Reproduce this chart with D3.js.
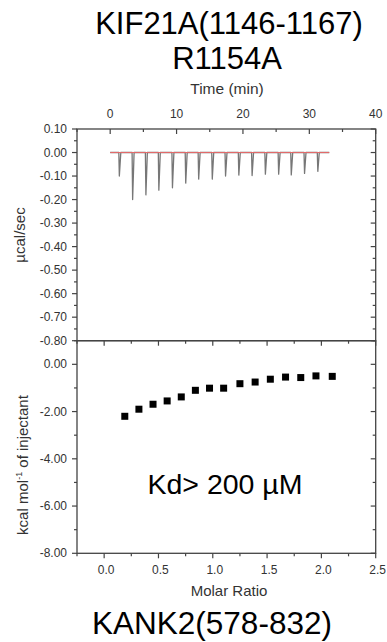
<!DOCTYPE html>
<html>
  <head>
    <meta charset="utf-8">
    <title>KIF21A R1154A ITC</title>
    <script src="https://cdn.jsdelivr.net/npm/d3@7"></script>
    <style>
      body { margin: 0; background: #fff; }
      svg { display: block; font-family: "Liberation Sans", Arial, sans-serif; }
      .frame { fill: none; stroke: #444; stroke-width: 1.3; }
      .tickLabel { font-size: 12px; fill: #333; }
    </style>
  </head>

  <body>
    <svg id="chart" width="387" height="642"></svg>

    <script>
      // data: raw power trace (injections)
      injectionTimes = [1.3, 3.3, 5.3, 7.25, 9.3, 11.3, 13.25, 15.3, 17.3, 19.3, 21.3, 23.3, 25.3, 27.2, 29.2, 31.2];
      peakHeights = [-0.10, -0.20, -0.18, -0.16, -0.15, -0.13, -0.113, -0.113, -0.10, -0.096, -0.098, -0.092, -0.092, -0.095, -0.089, -0.08];
      baselineSpan = [0, 33];

      // data: integrated heats
      molarRatio = [0.19, 0.32, 0.45, 0.58, 0.71, 0.84, 0.97, 1.10, 1.25, 1.39, 1.53, 1.67, 1.81, 1.95, 2.10];
      heat = [-2.20, -1.90, -1.69, -1.55, -1.38, -1.10, -1.01, -1.01, -0.82, -0.75, -0.63, -0.54, -0.56, -0.49, -0.51];

      // tick labels
      timeTicks = [0, 10, 20, 30, 40];
      powerTicks = [0.10, 0.00, -0.10, -0.20, -0.30, -0.40, -0.50, -0.60, -0.70, -0.80];
      powerLabels = ["0.10", "0.00", "-0.10", "-0.20", "-0.30", "-0.40", "-0.50", "-0.60", "-0.70", "-0.80"];
      heatTicks = [0, -2, -4, -6, -8];
      heatLabels = ["0.00", "-2.00", "-4.00", "-6.00", "-8.00"];
      ratioTicks = [0, 0.5, 1, 1.5, 2, 2.5];
      ratioLabels = ["0.0", "0.5", "1.0", "1.5", "2.0", "2.5"];

      svg = d3.select("#chart");

      left = 77;
      right = 375.7;
      top1 = 129;
      mid = 340.7;
      bottom = 553.3;

      // scales
      xTime = d3.scaleLinear().domain([-5, 40]).range([left, right]);
      yPower = d3.scaleLinear().domain([-0.8, 0.1]).range([mid, top1]);
      xRatio = d3.scaleLinear().domain([-0.25, 2.5]).range([left, right]);
      yHeat = d3.scaleLinear().domain([-8, 1]).range([bottom, mid]);

      // ticks helper: major + minor
      function drawTicks(g, scale, majors, minors, orient, pos, dir) {
        all = majors.map(function(d) { return {v: d, len: 5}; })
          .concat(minors.map(function(d) { return {v: d, len: 3}; }));
        g.selectAll(null)
          .data(all)
        .enter().append("line")
          .attr("stroke", "#444")
          .attr("stroke-width", 1.2)
          .attr("x1", function(d) { return orient == "h" ? scale(d.v) : pos; })
          .attr("x2", function(d) { return orient == "h" ? scale(d.v) : pos + dir * d.len; })
          .attr("y1", function(d) { return orient == "h" ? pos : scale(d.v); })
          .attr("y2", function(d) { return orient == "h" ? pos + dir * d.len : scale(d.v); });
      }

      axes = svg.append("g");

      // top panel ticks
      powerMinor = [0.05, -0.05, -0.15, -0.25, -0.35, -0.45, -0.55, -0.65, -0.75];
      drawTicks(axes, xTime, timeTicks, [-5, 5, 15, 25, 35], "h", top1, 1);
      drawTicks(axes, yPower, powerTicks, powerMinor, "v", left, -1);
      drawTicks(axes, yPower, powerTicks, powerMinor, "v", right, -1);

      // bottom panel ticks
      ratioMinor = [-0.25, 0.25, 0.75, 1.25, 1.75, 2.25];
      drawTicks(axes, xRatio, ratioTicks, ratioMinor, "h", mid, 1);
      drawTicks(axes, xRatio, ratioTicks, ratioMinor, "h", bottom, 1);
      drawTicks(axes, yHeat, heatTicks, [1, -1, -3, -5, -7], "v", left, -1);
      drawTicks(axes, yHeat, heatTicks, [1, -1, -3, -5, -7], "v", right, -1);

      // frames
      svg.append("rect").attr("class", "frame")
        .attr("x", left).attr("y", top1)
        .attr("width", right - left).attr("height", mid - top1);
      svg.append("rect").attr("class", "frame")
        .attr("x", left).attr("y", mid)
        .attr("width", right - left).attr("height", bottom - mid);

      // tick labels
      svg.selectAll(".timeLabel")
        .data(timeTicks)
      .enter().append("text")
        .attr("class", "tickLabel")
        .attr("x", function(d) { return xTime(d); })
        .attr("y", top1 - 11)
        .attr("text-anchor", "middle")
        .text(function(d) { return d; });

      svg.selectAll(".powerLabel")
        .data(powerTicks)
      .enter().append("text")
        .attr("class", "tickLabel")
        .attr("x", left - 10)
        .attr("y", function(d) { return yPower(d) + 4; })
        .attr("text-anchor", "end")
        .text(function(d, i) { return powerLabels[i]; });

      svg.selectAll(".heatLabel")
        .data(heatTicks)
      .enter().append("text")
        .attr("class", "tickLabel")
        .attr("x", left - 10)
        .attr("y", function(d) { return yHeat(d) + 4; })
        .attr("text-anchor", "end")
        .text(function(d, i) { return heatLabels[i]; });

      svg.selectAll(".ratioLabel")
        .data(ratioTicks)
      .enter().append("text")
        .attr("class", "tickLabel")
        .attr("x", function(d) { return xRatio(d) + 2; })
        .attr("y", bottom + 21)
        .attr("text-anchor", "middle")
        .text(function(d, i) { return ratioLabels[i]; });

      // raw trace: flat baseline with one sharp spike per injection
      tracePts = [[baselineSpan[0], 0]];
      injectionTimes.forEach(function(t, i) {
        tracePts.push([t, 0], [t + 0.08, peakHeights[i]], [t + 0.3, 0]);
      });
      tracePts.push([baselineSpan[1], 0]);

      line = d3.line()
        .x(function(d) { return xTime(d[0]); })
        .y(function(d) { return yPower(d[1]); });

      svg.append("path")
        .datum(tracePts)
        .attr("d", line)
        .attr("fill", "none")
        .attr("stroke", "#777")
        .attr("stroke-width", 1.3)
        .attr("stroke-linejoin", "round");

      svg.append("path")
        .datum(baselineSpan.map(function(t) { return [t, 0]; }))
        .attr("d", line)
        .attr("fill", "none")
        .attr("stroke", "#e46a6a")
        .attr("stroke-width", 1);

      // integrated heats
      svg.selectAll(".pt")
        .data(molarRatio)
      .enter().append("rect")
        .attr("x", function(d) { return xRatio(d) - 3.5; })
        .attr("y", function(d, i) { return yHeat(heat[i]) - 3.5; })
        .attr("width", 7)
        .attr("height", 7)
        .attr("fill", "#000");

      // axis titles
      svg.append("text")
        .attr("x", 227).attr("y", 94)
        .attr("text-anchor", "middle")
        .style("font-size", "15.5px").style("fill", "#333")
        .text("Time (min)");

      svg.append("text")
        .attr("x", 229).attr("y", 596)
        .attr("text-anchor", "middle")
        .style("font-size", "15px").style("fill", "#333")
        .text("Molar Ratio");

      svg.append("text")
        .attr("transform", "translate(25, 235) rotate(-90)")
        .attr("text-anchor", "middle")
        .style("font-size", "15px").style("fill", "#333")
        .text("µcal/sec");

      yt = svg.append("text")
        .attr("transform", "translate(28, 465) rotate(-90)")
        .attr("text-anchor", "middle")
        .style("font-size", "15px").style("fill", "#333");
      yt.append("tspan").text("kcal mol");
      yt.append("tspan").attr("dy", -6).style("font-size", "9px").text("-1");
      yt.append("tspan").attr("dy", 6).text(" of injectant");

      // titles
      svg.append("text")
        .attr("x", 229).attr("y", 34)
        .attr("text-anchor", "middle")
        .style("font-size", "31px")
        .text("KIF21A(1146-1167)");

      svg.append("text")
        .attr("x", 227).attr("y", 69)
        .attr("text-anchor", "middle")
        .style("font-size", "31px")
        .text("R1154A");

      svg.append("text")
        .attr("x", 225).attr("y", 494)
        .attr("text-anchor", "middle")
        .style("font-size", "28.5px")
        .text("Kd> 200 µM");

      svg.append("text")
        .attr("x", 212).attr("y", 634)
        .attr("text-anchor", "middle")
        .style("font-size", "31.5px")
        .text("KANK2(578-832)");
    </script>
  </body>
</html>
